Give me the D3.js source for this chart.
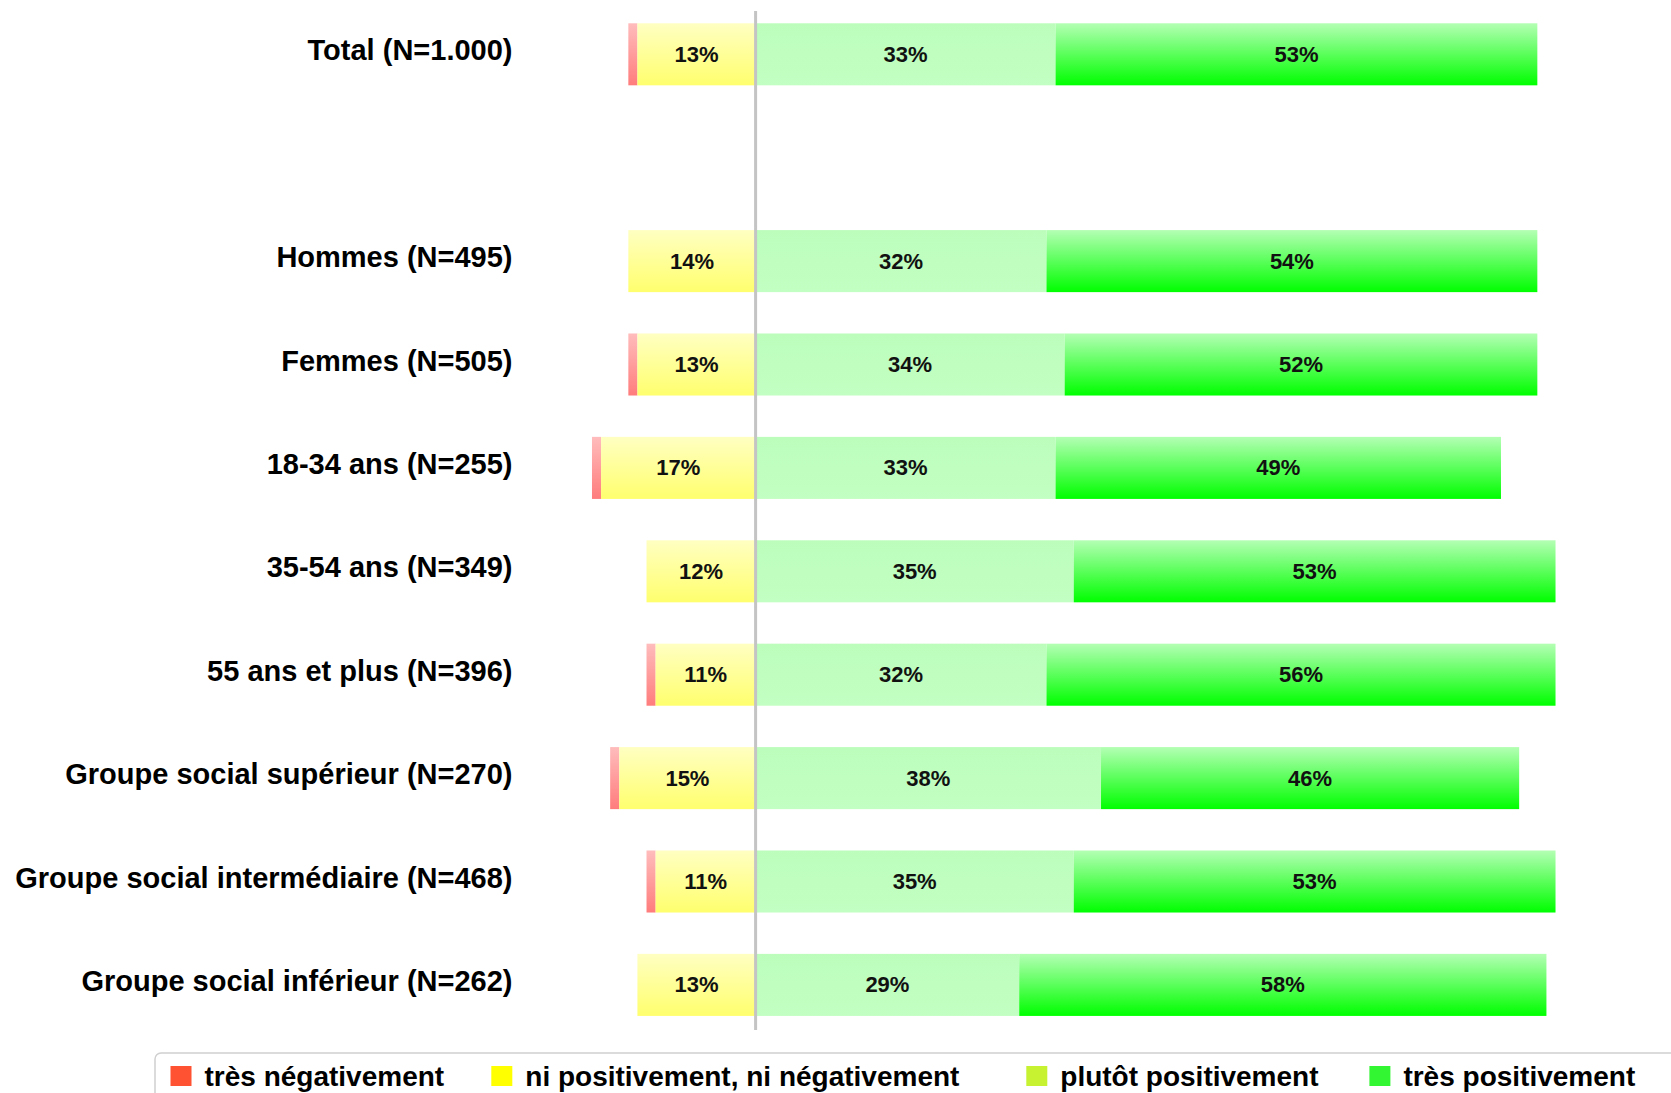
<!DOCTYPE html>
<html><head><meta charset="utf-8">
<script src="https://cdn.jsdelivr.net/npm/d3@7"></script>
<style>html,body{margin:0;padding:0;background:#fff;overflow:hidden}</style>
</head><body>
<svg id="chart" width="1671" height="1093"></svg>
<script>
const categories = ["Total (N=1.000)", " ", "Hommes (N=495)", "Femmes (N=505)", "18-34 ans (N=255)", "35-54 ans (N=349)", "55 ans et plus (N=396)", "Groupe social supérieur (N=270)", "Groupe social intermédiaire (N=468)", "Groupe social inférieur (N=262)"];
const seriesNames = ["très négativement", "ni positivement, ni négativement", "plutôt positivement", "très positivement"];
const tresNeg = [1, null, 0, 1, 1, 0, 1, 1, 1, 0];
const niNi = [13, null, 14, 13, 17, 12, 11, 15, 11, 13];
const plutot = [33, null, 32, 34, 33, 35, 32, 38, 35, 29];
const tresPos = [53, null, 54, 52, 49, 53, 56, 46, 53, 58];
const legendColors = ["#ff5233", "#ffff00", "#c6f232", "#33f633"];

const svg = d3.select("#chart");
const defs = svg.append("defs");
function grad(id, top, bottom){
  const g = defs.append("linearGradient").attr("id", id).attr("x1",0).attr("y1",0).attr("x2",0).attr("y2",1);
  g.append("stop").attr("offset","0%").attr("stop-color",top);
  g.append("stop").attr("offset","100%").attr("stop-color",bottom);
}
grad("gRed", "#ffbcbc", "#ff7c7c");
grad("gYel", "#ffffc2", "#ffff6e");
grad("gLg", "#bcfdbc", "#c2ffc2");
grad("gGr", "#b4ffb4", "#00ff00");
const fills = ["url(#gRed)", "url(#gYel)", "url(#gLg)", "url(#gGr)"];

const x = d3.scaleLinear().domain([-20, 90]).range([573.8, 1573.7]);
const y = d3.scaleBand().domain(categories).range([2.6, 1036.6]).paddingInner(0.4).paddingOuter(0.2);

const rows = categories.map((c, i) => ({cat: c, vals: [tresNeg[i], niNi[i], plutot[i], tresPos[i]]})).filter(r => r.vals[1] !== null);

// segments
rows.forEach(r => {
  const v = r.vals;
  const segs = [
    {s: 0, x0: -(v[0] + v[1]), x1: -v[1], v: v[0]},
    {s: 1, x0: -v[1], x1: 0, v: v[1]},
    {s: 2, x0: 0, x1: v[2], v: v[2]},
    {s: 3, x0: v[2], x1: v[2] + v[3], v: v[3]}
  ];
  const g = svg.append("g");
  g.selectAll("rect").data(segs.filter(d => d.v > 0)).join("rect")
    .attr("x", d => x(d.x0)).attr("width", d => x(d.x1) - x(d.x0))
    .attr("y", y(r.cat)).attr("height", y.bandwidth())
    .attr("fill", d => fills[d.s]);
  g.selectAll("text").data(segs.filter(d => d.s > 0 && d.v > 0)).join("text")
    .attr("x", d => (x(d.x0) + x(d.x1)) / 2)
    .attr("y", y(r.cat) + y.bandwidth() / 2)
    .attr("text-anchor", "middle").attr("dominant-baseline", "central")
    .attr("font-family", "Liberation Sans, Arial, sans-serif").attr("font-weight", "bold")
    .attr("font-size", 22).attr("fill", "#111")
    .text(d => d.v + "%");
});

// category labels
svg.append("g").selectAll("text").data(rows).join("text")
  .attr("x", 512.5).attr("y", d => y(d.cat) + y.bandwidth() / 2 - 4)
  .attr("text-anchor", "end").attr("dominant-baseline", "central")
  .attr("font-family", "Liberation Sans, Arial, sans-serif").attr("font-weight", "bold")
  .attr("font-size", 29).attr("fill", "#000")
  .text(d => d.cat);

// center line
svg.append("line").attr("x1", x(0)).attr("x2", x(0)).attr("y1", 11).attr("y2", 1030)
  .attr("stroke", "#c4c4c4").attr("stroke-width", 3);

// legend
svg.append("rect").attr("x", 155).attr("y", 1053).attr("width", 1540).attr("height", 80).attr("rx", 6)
  .attr("fill", "#fff").attr("stroke", "#d0d0d0").attr("stroke-width", 1.5);
const legX = [170.5, 491.3, 1026.3, 1369.4];
const lg = svg.append("g").selectAll("g").data(seriesNames).join("g")
  .attr("transform", (d, i) => `translate(${legX[i]},1066)`);
lg.append("rect").attr("width", 21).attr("height", 20).attr("fill", (d, i) => legendColors[i]);
lg.append("text").attr("x", 34).attr("y", 10).attr("dominant-baseline", "central")
  .attr("font-family", "Liberation Sans, Arial, sans-serif").attr("font-weight", "bold")
  .attr("font-size", 28).attr("fill", "#000").text(d => d);
</script>
</body></html>
